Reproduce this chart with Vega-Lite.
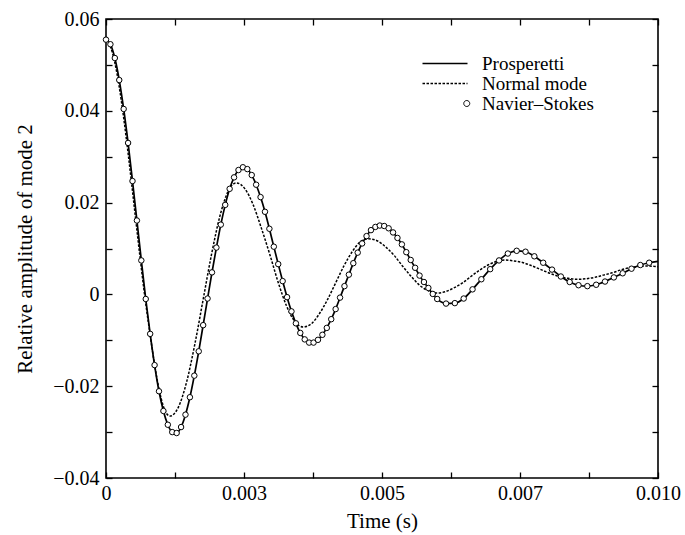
{
  "$schema": "https://vega.github.io/schema/vega-lite/v6.json",
  "width": 552,
  "height": 459,
  "autosize": {"type": "none"},
  "padding": {"left": 106, "top": 19, "right": 27, "bottom": 57},
  "background": "white",
  "config": {
    "view": {"stroke": "black", "strokeWidth": 1.6},
    "font": "Liberation Serif",
    "axis": {
      "domain": false,
      "grid": false,
      "ticks": true,
      "tickColor": "black",
      "tickWidth": 1.3,
      "tickSize": -6,
      "labelFont": "Liberation Serif",
      "labelFontSize": 20,
      "labelColor": "black",
      "labelOverlap": false,
      "labelFlush": false,
      "labelBound": false,
      "titleFont": "Liberation Serif",
      "titleFontSize": 21,
      "titleFontWeight": "normal",
      "titleColor": "black"
    }
  },
  "datasets": {
    "prosperetti": [
      {"t": 0, "v": 0.0555}, {"t": 0.00008, "v": 0.0545}, {"t": 0.00016, "v": 0.0515}, {"t": 0.00024, "v": 0.0467},
      {"t": 0.00032, "v": 0.0404}, {"t": 0.0004, "v": 0.033}, {"t": 0.00048, "v": 0.0247}, {"t": 0.00056, "v": 0.0161},
      {"t": 0.00064, "v": 0.0074}, {"t": 0.00072, "v": -0.001}, {"t": 0.0008, "v": -0.0086}, {"t": 0.00088, "v": -0.0154},
      {"t": 0.00096, "v": -0.0211}, {"t": 0.00104, "v": -0.0254}, {"t": 0.00112, "v": -0.0284}, {"t": 0.0012, "v": -0.03},
      {"t": 0.00128, "v": -0.0302}, {"t": 0.00136, "v": -0.0289}, {"t": 0.00144, "v": -0.0262}, {"t": 0.00152, "v": -0.0224},
      {"t": 0.0016, "v": -0.0177}, {"t": 0.00168, "v": -0.0124}, {"t": 0.00176, "v": -0.0067}, {"t": 0.00184, "v": -0.0009},
      {"t": 0.00192, "v": 0.0048}, {"t": 0.002, "v": 0.0102}, {"t": 0.00208, "v": 0.0152}, {"t": 0.00216, "v": 0.0195},
      {"t": 0.00224, "v": 0.023}, {"t": 0.00232, "v": 0.0255}, {"t": 0.0024, "v": 0.0271}, {"t": 0.00248, "v": 0.0277},
      {"t": 0.00256, "v": 0.0273}, {"t": 0.00264, "v": 0.026}, {"t": 0.00272, "v": 0.0239}, {"t": 0.0028, "v": 0.0212},
      {"t": 0.00288, "v": 0.018}, {"t": 0.00296, "v": 0.0143}, {"t": 0.00304, "v": 0.0104}, {"t": 0.00312, "v": 0.0066},
      {"t": 0.0032, "v": 0.0029}, {"t": 0.00328, "v": -0.0006}, {"t": 0.00336, "v": -0.0037}, {"t": 0.00344, "v": -0.0063},
      {"t": 0.00352, "v": -0.0084}, {"t": 0.0036, "v": -0.0098}, {"t": 0.00368, "v": -0.0105}, {"t": 0.00376, "v": -0.0105},
      {"t": 0.00384, "v": -0.0099}, {"t": 0.00392, "v": -0.0088}, {"t": 0.004, "v": -0.0073}, {"t": 0.00408, "v": -0.0054},
      {"t": 0.00416, "v": -0.0032}, {"t": 0.00424, "v": -0.0007}, {"t": 0.00432, "v": 0.0018}, {"t": 0.0044, "v": 0.0043},
      {"t": 0.00448, "v": 0.0068}, {"t": 0.00456, "v": 0.0091}, {"t": 0.00464, "v": 0.0111}, {"t": 0.00472, "v": 0.0127},
      {"t": 0.0048, "v": 0.014}, {"t": 0.00488, "v": 0.0147}, {"t": 0.00496, "v": 0.015}, {"t": 0.00504, "v": 0.0149},
      {"t": 0.00512, "v": 0.0144}, {"t": 0.0052, "v": 0.0135}, {"t": 0.00528, "v": 0.0123}, {"t": 0.00536, "v": 0.0109},
      {"t": 0.00544, "v": 0.0092}, {"t": 0.00552, "v": 0.0075}, {"t": 0.0056, "v": 0.0058}, {"t": 0.00568, "v": 0.0041},
      {"t": 0.00576, "v": 0.0027}, {"t": 0.00584, "v": 0.0014}, {"t": 0.00592, "v": 0.0001}, {"t": 0.006, "v": -0.001},
      {"t": 0.00616, "v": -0.002}, {"t": 0.00632, "v": -0.0019}, {"t": 0.00648, "v": -0.0009}, {"t": 0.00664, "v": 0.0011},
      {"t": 0.0068, "v": 0.0033}, {"t": 0.00696, "v": 0.0055}, {"t": 0.00712, "v": 0.0074}, {"t": 0.00728, "v": 0.0089},
      {"t": 0.00744, "v": 0.0095}, {"t": 0.0076, "v": 0.0093}, {"t": 0.00776, "v": 0.0083}, {"t": 0.00792, "v": 0.0069},
      {"t": 0.00808, "v": 0.0054}, {"t": 0.00824, "v": 0.0039}, {"t": 0.0084, "v": 0.0027}, {"t": 0.00856, "v": 0.002},
      {"t": 0.00872, "v": 0.0018}, {"t": 0.00888, "v": 0.0021}, {"t": 0.00904, "v": 0.0028}, {"t": 0.0092, "v": 0.0037},
      {"t": 0.00936, "v": 0.0046}, {"t": 0.00952, "v": 0.0056}, {"t": 0.00968, "v": 0.0064}, {"t": 0.00984, "v": 0.0069},
      {"t": 0.01, "v": 0.0072}
    ],
    "navier": [
      {"t": 0, "v": 0.0555}, {"t": 0.00008, "v": 0.0545}, {"t": 0.00016, "v": 0.0515}, {"t": 0.00024, "v": 0.0467},
      {"t": 0.00032, "v": 0.0404}, {"t": 0.0004, "v": 0.033}, {"t": 0.00048, "v": 0.0247}, {"t": 0.00056, "v": 0.0161},
      {"t": 0.00064, "v": 0.0074}, {"t": 0.00072, "v": -0.001}, {"t": 0.0008, "v": -0.0086}, {"t": 0.00088, "v": -0.0154},
      {"t": 0.00096, "v": -0.0211}, {"t": 0.00104, "v": -0.0254}, {"t": 0.00112, "v": -0.0284}, {"t": 0.0012, "v": -0.03},
      {"t": 0.00128, "v": -0.0302}, {"t": 0.00136, "v": -0.0289}, {"t": 0.00144, "v": -0.0262}, {"t": 0.00152, "v": -0.0224},
      {"t": 0.0016, "v": -0.0177}, {"t": 0.00168, "v": -0.0124}, {"t": 0.00176, "v": -0.0067}, {"t": 0.00184, "v": -0.0009},
      {"t": 0.00192, "v": 0.0048}, {"t": 0.002, "v": 0.0102}, {"t": 0.00208, "v": 0.0152}, {"t": 0.00216, "v": 0.0195},
      {"t": 0.00224, "v": 0.023}, {"t": 0.00232, "v": 0.0255}, {"t": 0.0024, "v": 0.0271}, {"t": 0.00248, "v": 0.0277},
      {"t": 0.00256, "v": 0.0273}, {"t": 0.00264, "v": 0.026}, {"t": 0.00272, "v": 0.0239}, {"t": 0.0028, "v": 0.0212},
      {"t": 0.00288, "v": 0.018}, {"t": 0.00296, "v": 0.0143}, {"t": 0.00304, "v": 0.0104}, {"t": 0.00312, "v": 0.0066},
      {"t": 0.0032, "v": 0.0029}, {"t": 0.00328, "v": -0.0006}, {"t": 0.00336, "v": -0.0037}, {"t": 0.00344, "v": -0.0063},
      {"t": 0.00352, "v": -0.0084}, {"t": 0.0036, "v": -0.0098}, {"t": 0.00368, "v": -0.0105}, {"t": 0.00376, "v": -0.0105},
      {"t": 0.00384, "v": -0.0099}, {"t": 0.00392, "v": -0.0088}, {"t": 0.004, "v": -0.0073}, {"t": 0.00408, "v": -0.0054},
      {"t": 0.00416, "v": -0.0032}, {"t": 0.00424, "v": -0.0007}, {"t": 0.00432, "v": 0.0018}, {"t": 0.0044, "v": 0.0043},
      {"t": 0.00448, "v": 0.0068}, {"t": 0.00456, "v": 0.0091}, {"t": 0.00464, "v": 0.0111}, {"t": 0.00472, "v": 0.0127},
      {"t": 0.0048, "v": 0.014}, {"t": 0.00488, "v": 0.0147}, {"t": 0.00496, "v": 0.015}, {"t": 0.00504, "v": 0.0149},
      {"t": 0.00512, "v": 0.0144}, {"t": 0.0052, "v": 0.0135}, {"t": 0.00528, "v": 0.0123}, {"t": 0.00536, "v": 0.0109},
      {"t": 0.00544, "v": 0.0092}, {"t": 0.00552, "v": 0.0075}, {"t": 0.0056, "v": 0.0058}, {"t": 0.00568, "v": 0.0041},
      {"t": 0.00576, "v": 0.0027}, {"t": 0.00584, "v": 0.0014}, {"t": 0.00592, "v": 0.0001}, {"t": 0.006, "v": -0.001},
      {"t": 0.00616, "v": -0.002}, {"t": 0.00632, "v": -0.0019}, {"t": 0.00648, "v": -0.0009}, {"t": 0.00664, "v": 0.0011},
      {"t": 0.0068, "v": 0.0033}, {"t": 0.00696, "v": 0.0055}, {"t": 0.00712, "v": 0.0074}, {"t": 0.00728, "v": 0.0089},
      {"t": 0.00744, "v": 0.0095}, {"t": 0.0076, "v": 0.0093}, {"t": 0.00776, "v": 0.0083}, {"t": 0.00792, "v": 0.0069},
      {"t": 0.00808, "v": 0.0054}, {"t": 0.00824, "v": 0.0039}, {"t": 0.0084, "v": 0.0027}, {"t": 0.00856, "v": 0.002},
      {"t": 0.00872, "v": 0.0018}, {"t": 0.00888, "v": 0.0021}, {"t": 0.00904, "v": 0.0028}, {"t": 0.0092, "v": 0.0037},
      {"t": 0.00936, "v": 0.0046}, {"t": 0.00952, "v": 0.0056}, {"t": 0.00968, "v": 0.0064}, {"t": 0.00984, "v": 0.0069}
    ],
    "normal": [
      {"t": 0, "v": 0.0555}, {"t": 0.00008, "v": 0.054}, {"t": 0.00016, "v": 0.0505}, {"t": 0.00024, "v": 0.0452},
      {"t": 0.00032, "v": 0.0385}, {"t": 0.0004, "v": 0.0308}, {"t": 0.00048, "v": 0.0225}, {"t": 0.00056, "v": 0.014},
      {"t": 0.00064, "v": 0.0057}, {"t": 0.00072, "v": -0.002}, {"t": 0.0008, "v": -0.0088}, {"t": 0.00088, "v": -0.0153},
      {"t": 0.00096, "v": -0.0206}, {"t": 0.00104, "v": -0.0244}, {"t": 0.0011, "v": -0.026}, {"t": 0.00116, "v": -0.0265},
      {"t": 0.00131, "v": -0.0246}, {"t": 0.00146, "v": -0.0191}, {"t": 0.00161, "v": -0.0108}, {"t": 0.00176, "v": -0.0011},
      {"t": 0.00191, "v": 0.0086}, {"t": 0.00206, "v": 0.0169}, {"t": 0.00221, "v": 0.0224}, {"t": 0.00236, "v": 0.0243},
      {"t": 0.00251, "v": 0.0231}, {"t": 0.00266, "v": 0.0197}, {"t": 0.00281, "v": 0.0146}, {"t": 0.00297, "v": 0.0086},
      {"t": 0.00312, "v": 0.0026}, {"t": 0.00327, "v": -0.0025}, {"t": 0.00342, "v": -0.0059}, {"t": 0.00357, "v": -0.0071},
      {"t": 0.00372, "v": -0.0064}, {"t": 0.00386, "v": -0.0043}, {"t": 0.00401, "v": -0.0012}, {"t": 0.00416, "v": 0.0025},
      {"t": 0.00431, "v": 0.0062}, {"t": 0.00446, "v": 0.0093}, {"t": 0.0046, "v": 0.0114}, {"t": 0.00475, "v": 0.0121},
      {"t": 0.00491, "v": 0.0117}, {"t": 0.00506, "v": 0.0104}, {"t": 0.00522, "v": 0.0085}, {"t": 0.00537, "v": 0.0062},
      {"t": 0.00553, "v": 0.0039}, {"t": 0.00568, "v": 0.002}, {"t": 0.00584, "v": 0.0008}, {"t": 0.00599, "v": 0.0003},
      {"t": 0.00615, "v": 0.0006}, {"t": 0.0063, "v": 0.0014}, {"t": 0.00646, "v": 0.0025}, {"t": 0.00661, "v": 0.0039},
      {"t": 0.00677, "v": 0.0053}, {"t": 0.00692, "v": 0.0064}, {"t": 0.00708, "v": 0.0072}, {"t": 0.00723, "v": 0.0075},
      {"t": 0.00739, "v": 0.0073}, {"t": 0.00756, "v": 0.0069}, {"t": 0.00772, "v": 0.0062}, {"t": 0.00788, "v": 0.0054},
      {"t": 0.00804, "v": 0.0046}, {"t": 0.00821, "v": 0.0039}, {"t": 0.00837, "v": 0.0035}, {"t": 0.00853, "v": 0.0033},
      {"t": 0.00869, "v": 0.0034}, {"t": 0.00885, "v": 0.0037}, {"t": 0.00901, "v": 0.0042}, {"t": 0.00917, "v": 0.0047},
      {"t": 0.00932, "v": 0.0053}, {"t": 0.00948, "v": 0.0058}, {"t": 0.00964, "v": 0.0061}, {"t": 0.0098, "v": 0.0062},
      {"t": 0.01, "v": 0.006}
    ]
  },
  "layer": [
    {
      "encoding": {
        "x": {
          "field": "t", "type": "quantitative",
          "scale": {"domain": [0, 0.01], "nice": false, "zero": false},
          "axis": {
            "orient": "bottom",
            "title": "Time (s)",
            "values": [0, 0.00125, 0.0025, 0.00375, 0.005, 0.00625, 0.0075, 0.00875, 0.01],
            "labelExpr": "datum.value == 0 ? '0' : datum.value == 0.0025 ? '0.003' : datum.value == 0.005 ? '0.005' : datum.value == 0.0075 ? '0.007' : datum.value == 0.01 ? '0.010' : ''",
            "labelPadding": 11,
            "titlePadding": 7
          }
        },
        "y": {
          "field": "v", "type": "quantitative",
          "scale": {"domain": [-0.04, 0.06], "nice": false, "zero": false},
          "axis": {
            "orient": "left",
            "title": "Relative amplitude of mode 2",
            "values": [-0.04, -0.03, -0.02, -0.01, 0, 0.01, 0.02, 0.03, 0.04, 0.05, 0.06],
            "labelExpr": "datum.value == 0.06 ? '0.06' : datum.value == 0.04 ? '0.04' : datum.value == 0.02 ? '0.02' : datum.value == 0 ? '0' : datum.value == -0.02 ? '−0.02' : datum.value == -0.04 ? '−0.04' : ''",
            "labelPadding": 13,
            "titlePadding": 17
          }
        }
      },
      "layer": [
        {
          "data": {"name": "prosperetti"},
          "mark": {"type": "line", "strokeWidth": 1.7, "interpolate": "monotone"},
          "encoding": {
            "color": {
              "datum": "Prosperetti", "type": "nominal",
              "scale": {"domain": ["Prosperetti", "Normal mode", "Navier–Stokes"], "range": ["black", "black", "black"]},
              "legend": {
                "orient": "none", "direction": "vertical", "legendX": 329.5, "legendY": 35,
                "title": null, "padding": 0, "rowPadding": -2,
                "labelFont": "Liberation Serif", "labelFontSize": 19, "labelColor": "black",
                "labelOffset": 27.5, "symbolSize": 100,
                "encode": {
                  "symbols": {
                    "update": {
                      "shape": {"signal": "datum.value === 'Navier–Stokes' ? 'M4.95,0A0.6,0.6,0,1,1,3.75,0A0.6,0.6,0,1,1,4.95,0Z' : 'M-4.5,0L4.5,0'"},
                      "strokeDash": {"signal": "datum.value === 'Normal mode' ? [2.5, 1.5] : []"},
                      "fill": {"signal": "datum.value === 'Navier–Stokes' ? 'white' : 'transparent'"},
                      "stroke": {"value": "black"},
                      "strokeWidth": {"signal": "datum.value === 'Navier–Stokes' ? 1 : 1.6"},
                      "opacity": {"value": 1},
                      "size": {"value": 100}
                    }
                  }
                }
              }
            }
          }
        },
        {
          "data": {"name": "normal"},
          "mark": {"type": "line", "strokeWidth": 1.5, "strokeDash": [2.5, 1.5], "interpolate": "monotone"},
          "encoding": {
            "color": {"datum": "Normal mode", "type": "nominal"}
          }
        }
      ]
    },
    {
      "data": {"name": "navier"},
      "mark": {"type": "point", "shape": "circle", "filled": false, "fill": "white", "fillOpacity": 1, "strokeWidth": 1, "size": 30, "opacity": 1},
      "encoding": {
        "x": {
          "field": "t", "type": "quantitative",
          "scale": {"domain": [0, 0.01], "nice": false, "zero": false},
          "axis": {
            "orient": "top", "title": null, "labels": false,
            "values": [0, 0.00125, 0.0025, 0.00375, 0.005, 0.00625, 0.0075, 0.00875, 0.01]
          }
        },
        "y": {
          "field": "v", "type": "quantitative",
          "scale": {"domain": [-0.04, 0.06], "nice": false, "zero": false},
          "axis": {
            "orient": "right", "title": null, "labels": false,
            "values": [-0.04, -0.03, -0.02, -0.01, 0, 0.01, 0.02, 0.03, 0.04, 0.05, 0.06]
          }
        },
        "color": {"datum": "Navier–Stokes", "type": "nominal"}
      }
    }
  ],
  "resolve": {"axis": {"x": "independent", "y": "independent"}}
}
